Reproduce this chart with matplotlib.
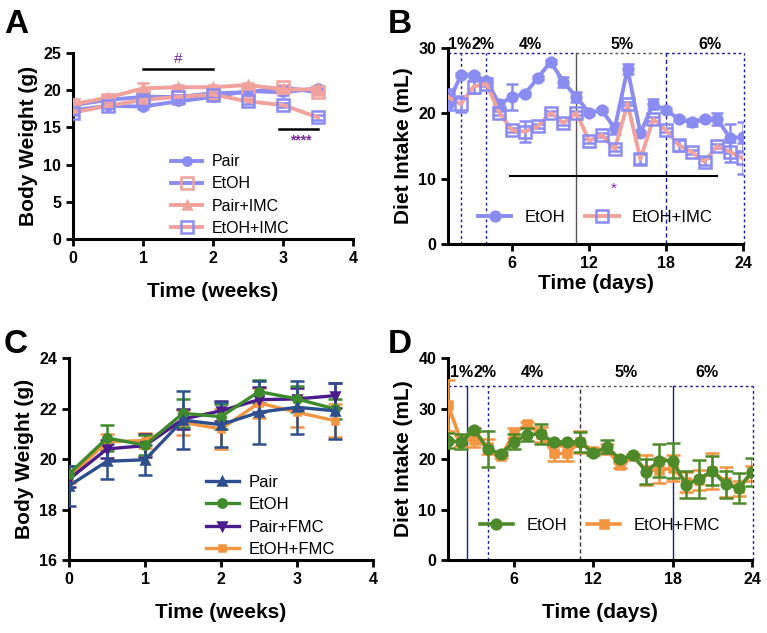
import numpy as np
import matplotlib
matplotlib.use("Agg")
import matplotlib.pyplot as plt

plt.rcParams['font.family'] = ['Liberation Sans', 'DejaVu Sans']

# ---------- panel A : body weight, IMC ----------
weeks = [0, 0.5, 1, 1.5, 2, 2.5, 3, 3.5]
a_pair = [17.3, 17.9, 17.8, 18.5, 19.1, 19.9, 19.7, 20.25]
a_etoh = [18.0, 18.7, 19.1, 19.1, 19.6, 19.7, 20.4, 19.7]
a_pair_imc = [18.1, 19.0, 20.25, 20.4, 20.4, 20.7, 20.1, 20.1]
a_etoh_imc = [17.0, 17.9, 18.7, 19.1, 19.4, 18.5, 18.0, 16.35]
a_pair_err = [0.3, 0.3, 0.3, 0.3, 0.3, 0.3, 0.3, 0.3]
a_etoh_err = [0.3, 0.3, 0.4, 0.3, 0.3, 0.3, 0.3, 0.3]
a_pair_imc_err = [0.3, 0.3, 0.7, 0.3, 0.3, 0.3, 0.3, 0.3]
a_etoh_imc_err = [0.4, 0.3, 0.5, 0.3, 0.3, 0.3, 0.3, 0.3]

# ---------- panel B : diet intake, IMC ----------
days = list(range(1, 25))
b_etoh = [21.5, 25.8, 25.8, 25.0, 21.4, 22.5, 23.0, 25.4, 27.9, 24.8, 22.5, 20.1,
          20.5, 17.7, 26.8, 17.0, 21.4, 20.5, 19.1, 18.6, 19.1, 19.1, 16.2, 16.4]
b_etoh_err = [1.0, 0.3, 0.3, 0.4, 0.7, 2.0, 0.3, 0.3, 0.3, 0.7, 0.8, 0.3,
              0.3, 0.8, 0.8, 0.3, 0.8, 0.3, 0.3, 0.6, 0.3, 0.9, 2.2, 2.2]
b_etoh_imc = [22.5, 21.4, 24.1, 24.5, 20.1, 17.4, 17.2, 18.0, 20.1, 18.5, 20.1, 15.8,
              16.7, 14.5, 21.5, 13.0, 19.1, 17.4, 15.1, 14.1, 12.6, 15.0, 14.1, 13.1]
b_etoh_imc_err = [1.2, 1.2, 1.0, 0.3, 0.3, 0.3, 1.6, 0.3, 0.3, 0.3, 0.3, 0.3,
                  0.3, 0.3, 0.3, 0.8, 0.3, 0.3, 0.8, 0.3, 0.5, 0.3, 1.5, 2.4]

# ---------- panel C : body weight, FMC ----------
c_pair = [18.94, 19.91, 19.97, 21.54, 21.36, 21.85, 22.05, 21.91]
c_pair_err = [0.8, 0.7, 0.6, 1.15, 0.9, 1.25, 1.05, 1.1]
c_etoh = [19.41, 20.83, 20.55, 21.81, 21.68, 22.67, 22.38, 21.98]
c_etoh_err = [0.3, 0.5, 0.4, 0.55, 0.5, 0.45, 0.5, 0.4]
c_pair_fmc = [19.2, 20.4, 20.53, 21.58, 21.91, 22.35, 22.38, 22.51]
c_pair_fmc_err = [0.3, 0.35, 0.45, 0.4, 0.4, 0.5, 0.45, 0.5]
c_etoh_fmc = [19.27, 20.69, 20.73, 21.45, 21.19, 22.22, 21.85, 21.52]
c_etoh_fmc_err = [0.2, 0.3, 0.3, 0.5, 0.8, 0.6, 0.6, 0.65]

# ---------- panel D : diet intake, FMC ----------
d_etoh = [23.6, 23.4, 25.8, 22.0, 21.0, 23.4, 24.8, 25.0, 23.3, 23.3, 23.4, 21.1,
          22.4, 20.0, 20.7, 17.5, 19.7, 19.7, 14.9, 16.0, 17.7, 15.0, 14.2, 17.5]
d_etoh_err = [1.5, 1.5, 0.3, 3.5, 0.3, 1.5, 1.3, 2.0, 0.3, 0.3, 2.0, 0.3,
              1.3, 0.3, 0.3, 2.5, 3.2, 3.5, 2.7, 3.8, 2.8, 2.7, 3.0, 2.8]
d_etoh_fmc = [30.6, 23.6, 23.8, 22.4, 20.5, 25.1, 26.9, 24.9, 21.1, 21.1, 23.4, 21.6,
              22.0, 18.8, 20.5, 17.8, 17.8, 18.2, 15.5, 15.8, 17.6, 15.5, 14.2, 17.2]
d_etoh_fmc_err = [5.0, 1.0, 1.5, 1.5, 0.3, 1.0, 0.5, 1.5, 1.5, 1.5, 2.2, 0.5,
                  1.0, 0.5, 0.3, 3.0, 2.5, 2.5, 2.0, 2.0, 3.5, 3.0, 1.5, 1.5]

stage_labels = ['1%', '2%', '4%', '5%', '6%']

BLUE = '#8a8cf2'
PINK = '#f2a29c'
NAVY = '#2d4f8e'
GREEN = '#3f8a2c'
PURPLE = '#4a1c8c'
ORANGE = '#f29440'
DGREEN = '#4e8a2a'
SIG = '#7a2a9a'
LINE_NAVY = '#1a1aa0'


def style_axes(ax):
    for s in ['top', 'right']:
        ax.spines[s].set_visible(False)
    for s in ['left', 'bottom']:
        ax.spines[s].set_linewidth(2.2)
    ax.tick_params(width=2, length=5, labelsize=11.5)
    for lab in ax.get_xticklabels() + ax.get_yticklabels():
        lab.set_fontweight('bold')


def eb(ax, x, y, e, color, mcolor, marker, ms=7, mfc=None, lw=2.8, label=None, z=3, cap=4):
    ax.errorbar(x, y, yerr=e, color=color, lw=lw, marker=marker, ms=ms,
                mfc=mfc if mfc is not None else mcolor, mec=mcolor, mew=1.8,
                ecolor=mcolor, elinewidth=1.8, capsize=cap, capthick=1.8,
                label=label, zorder=z)


def line_handles(ax, reverse=False):
    # legend shows only line + marker, not the error bars
    h, l = ax.get_legend_handles_labels()
    h = [c[0] for c in h]
    if reverse:
        h, l = h[::-1], l[::-1]
    return h, l


fig = plt.figure(figsize=(7.67, 6.33), dpi=100)

# ===== A =====
ax = fig.add_axes([0.0952, 0.6224, 0.365, 0.2939])
eb(ax, weeks, a_pair, a_pair_err, BLUE, BLUE, 'o', ms=6, label='Pair')
eb(ax, weeks, a_etoh, a_etoh_err, BLUE, PINK, 's', ms=8, mfc='none', label='EtOH')
eb(ax, weeks, a_pair_imc, a_pair_imc_err, PINK, PINK, '^', ms=6, label='Pair+IMC')
eb(ax, weeks, a_etoh_imc, a_etoh_imc_err, PINK, BLUE, 's', ms=8, mfc='none', label='EtOH+IMC')
ax.set_xlim(0, 4)
ax.set_ylim(0, 25)
ax.set_xticks([0, 1, 2, 3, 4])
ax.set_yticks([0, 5, 10, 15, 20, 25])
ax.plot([1, 2], [22.8, 22.8], color='black', lw=1.8, clip_on=False)
ax.text(1.5, 23.3, '#', color=SIG, ha='center', va='bottom', fontsize=11)
ax.plot([2.95, 3.5], [14.8, 14.8], color='black', lw=1.8)
ax.text(3.25, 14.2, '****', color=SIG, ha='center', va='top', fontsize=10, fontweight='bold')
ax.set_xlabel('Time (weeks)', fontsize=15, fontweight='bold', labelpad=12)
ax.set_ylabel('Body Weight (g)', fontsize=15, fontweight='bold')
h, l = line_handles(ax)
ax.legend(h, l, loc='lower left', bbox_to_anchor=(0.3, -0.06), frameon=False, fontsize=11.5,
          handlelength=1.9, labelspacing=0.45, handletextpad=0.6)
style_axes(ax)
fig.text(0.005, 0.985, 'A', fontsize=24, fontweight='bold', va='top')


def stage_box(ax, top, ytext, vlines, xlabels):
    # dotted box marking ethanol concentration stages
    for x, ls, col in vlines:
        ax.plot([x, x], [0, top], color=col, lw=1.0, ls=ls, zorder=1, clip_on=False)
    ax.plot([1, 11], [top, top], color=LINE_NAVY, lw=1.0, ls=(0, (2, 2)), clip_on=False, zorder=1)
    ax.plot([11, 18], [top, top], color='#555555', lw=1.0, ls=(0, (2, 2)), clip_on=False, zorder=1)
    ax.plot([18, 24.1], [top, top], color=LINE_NAVY, lw=1.0, ls=(0, (2, 2)), clip_on=False, zorder=1)
    for xl, t in zip(xlabels, stage_labels):
        ax.text(xl, ytext, t, ha='center', va='bottom', fontsize=11.5, fontweight='bold', clip_on=False)


# ===== B =====
ax = fig.add_axes([0.5841, 0.6145, 0.3846, 0.3097])
eb(ax, days, b_etoh, b_etoh_err, BLUE, BLUE, 'o', ms=7, label='EtOH')
eb(ax, days, b_etoh_imc, b_etoh_imc_err, PINK, BLUE, 's', ms=8, mfc='none', label='EtOH+IMC', z=4)
ax.set_xlim(1, 24)
ax.set_ylim(0, 30)
ax.set_xticks([6, 12, 18, 24])
ax.set_yticks([0, 10, 20, 30])
stage_box(ax, 29.3, 29.4,
          [(2, (0, (2, 2)), LINE_NAVY), (4, (0, (2, 2)), LINE_NAVY), (11, '-', '#555555'),
           (18, (0, (3, 2)), LINE_NAVY), (24.1, (0, (2, 2)), LINE_NAVY)],
          [1.9, 3.75, 7.45, 14.6, 21.4])
ax.plot([5.8, 22], [10.4, 10.4], color='black', lw=1.5)
ax.text(13.9, 9.6, '*', color=SIG, ha='center', va='top', fontsize=11)
ax.set_xlabel('Time (days)', fontsize=15, fontweight='bold', labelpad=2)
ax.set_ylabel('Diet Intake (mL)', fontsize=15, fontweight='bold')
h, l = line_handles(ax)
ax.legend(h, l, loc='lower center', bbox_to_anchor=(0.5, 0.02), frameon=False, fontsize=12,
          ncol=2, handlelength=2.0, columnspacing=1.2)
style_axes(ax)
fig.text(0.505, 0.985, 'B', fontsize=24, fontweight='bold', va='top')

# ===== C =====
ax = fig.add_axes([0.09, 0.1153, 0.3963, 0.3191])
eb(ax, weeks, c_etoh_fmc, c_etoh_fmc_err, ORANGE, ORANGE, 's', ms=5, lw=2.4, label='EtOH+FMC', cap=5)
eb(ax, weeks, c_pair_fmc, c_pair_fmc_err, PURPLE, PURPLE, 'v', ms=6, lw=2.4, label='Pair+FMC', cap=5)
eb(ax, weeks, c_etoh, c_etoh_err, GREEN, GREEN, 'o', ms=6, lw=2.4, label='EtOH', cap=5)
eb(ax, weeks, c_pair, c_pair_err, NAVY, NAVY, '^', ms=6, lw=2.4, label='Pair', cap=5)
ax.set_xlim(0, 4)
ax.set_ylim(16, 24)
ax.set_xticks([0, 1, 2, 3, 4])
ax.set_yticks([16, 18, 20, 22, 24])
ax.set_xlabel('Time (weeks)', fontsize=15, fontweight='bold', labelpad=12)
ax.set_ylabel('Body Weight (g)', fontsize=15, fontweight='bold')
h, l = line_handles(ax, reverse=True)
ax.legend(h, l, loc='lower left', bbox_to_anchor=(0.4, -0.06), frameon=False,
          fontsize=12, handlelength=2.0, labelspacing=0.45, handletextpad=0.6)
style_axes(ax)
fig.text(0.005, 0.48, 'C', fontsize=24, fontweight='bold', va='top')

# ===== D =====
ax = fig.add_axes([0.5841, 0.1153, 0.3963, 0.3191])
eb(ax, days, d_etoh_fmc, d_etoh_fmc_err, ORANGE, ORANGE, 's', ms=6, lw=2.6, label='EtOH+FMC', cap=5)
eb(ax, days, d_etoh, d_etoh_err, DGREEN, DGREEN, 'o', ms=7, lw=2.6, label='EtOH', z=4, cap=5)
ax.set_xlim(1, 24)
ax.set_ylim(0, 40)
ax.set_xticks([6, 12, 18, 24])
ax.set_yticks([0, 10, 20, 30, 40])
stage_box(ax, 34.5, 35.6,
          [(2.4, '-', LINE_NAVY), (4, (0, (2, 2)), LINE_NAVY), (11, (0, (3, 2)), '#333333'),
           (18, '-', LINE_NAVY), (24.05, (0, (2, 2)), LINE_NAVY)],
          [2.0, 3.8, 7.4, 14.5, 20.6])
ax.set_xlabel('Time (days)', fontsize=15, fontweight='bold', labelpad=12)
ax.set_ylabel('Diet Intake (mL)', fontsize=15, fontweight='bold')
h, l = line_handles(ax, reverse=True)
ax.legend(h, l, loc='lower center', bbox_to_anchor=(0.5, 0.06), frameon=False,
          fontsize=12, ncol=2, handlelength=2.0, columnspacing=1.2)
style_axes(ax)
fig.text(0.505, 0.48, 'D', fontsize=24, fontweight='bold', va='top')

fig.savefig('out.png', dpi=100)
